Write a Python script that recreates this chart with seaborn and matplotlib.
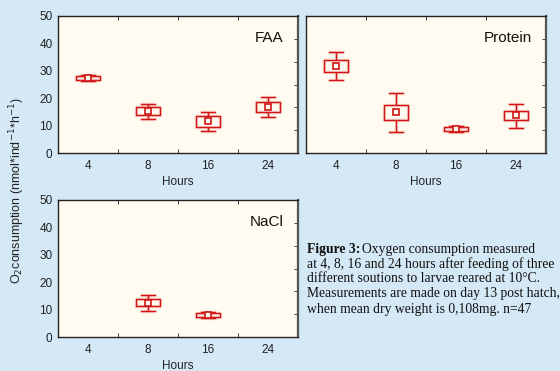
import numpy as np
import pandas as pd
import matplotlib
matplotlib.use("Agg")
import matplotlib.pyplot as plt
import matplotlib.patheffects as pe
import seaborn as sns

# values: mean, box (lo/hi), whisker (lo/hi)
hours = ["4", "8", "16", "24"]

faa_mean = [27.3, 15.3, 11.6, 16.8]
faa_box_lo = [26.5, 13.8, 9.6, 14.9]
faa_box_hi = [28.0, 16.7, 13.5, 18.7]
faa_whis_lo = [26.1, 12.4, 8.0, 13.2]
faa_whis_hi = [28.3, 18.0, 14.9, 20.3]

protein_mean = [31.8, 14.9, 8.8, 13.8]
protein_box_lo = [29.5, 12.0, 8.0, 11.9]
protein_box_hi = [33.8, 17.6, 9.6, 15.4]
protein_whis_lo = [26.8, 7.8, 7.6, 9.2]
protein_whis_hi = [36.7, 22.0, 10.0, 18.0]

nacl_hours = ["8", "16"]
nacl_mean = [12.5, 8.0]
nacl_box_lo = [11.2, 7.3]
nacl_box_hi = [13.8, 8.9]
nacl_whis_lo = [9.6, 7.1]
nacl_whis_hi = [15.3, 9.1]

caption = [
    "at 4, 8, 16 and 24 hours after feeding of three",
    "different soutions to larvae reared at 10°C.",
    "Measurements are made on day 13 post hatch,",
    "when mean dry weight is 0,108mg. n=47",
]

FIG_BG = "#d4e8f6"
AX_BG = "#fffbf0"
RED = "#d01515"
INK = "#222222"


def long_table(hrs, wlo, blo, mean, bhi, whi):
    # five numbers per group -> quartiles land on the box edges, min/max on whiskers
    rows = []
    for i, h in enumerate(hrs):
        for v in [wlo[i], blo[i], mean[i], bhi[i], whi[i]]:
            rows.append({"Hours": h, "value": v})
    return pd.DataFrame(rows)


sns.set_style("white")
plt.rcParams["font.family"] = ["Liberation Sans", "DejaVu Sans"]

fig = plt.figure(figsize=(5.6, 3.71), dpi=100, facecolor=FIG_BG)

panels = [
    ("FAA", [58, 16], hours, faa_whis_lo, faa_box_lo, faa_mean, faa_box_hi, faa_whis_hi, True),
    ("Protein", [306, 16], hours, protein_whis_lo, protein_box_lo, protein_mean, protein_box_hi, protein_whis_hi, False),
    ("NaCl", [58, 200], nacl_hours, nacl_whis_lo, nacl_box_lo, nacl_mean, nacl_box_hi, nacl_whis_hi, True),
]

glow = [pe.Stroke(linewidth=2.4, foreground=(0.9, 0.35, 0.35, 0.25)), pe.Normal()]

for name, (px, py), hrs, wlo, blo, mean, bhi, whi, ylabels in panels:
    ax = fig.add_axes([px / 560, 1 - (py + 137) / 371, 240 / 560, 137 / 371])
    ax.set_facecolor(AX_BG)

    df = long_table(hrs, wlo, blo, mean, bhi, whi)
    sns.boxplot(
        data=df, x="Hours", y="value", order=hours, ax=ax,
        fill=False, color=RED, linecolor=RED, linewidth=1.0,
        width=0.4, whis=np.inf, showfliers=False,
        medianprops={"visible": False},
    )
    for ln in ax.lines:
        ln.set_path_effects(glow)
    for p in ax.patches:
        p.set_path_effects(glow)

    means = pd.DataFrame({"Hours": hrs, "mean": mean})
    sns.pointplot(
        data=means, x="Hours", y="mean", order=hours, ax=ax,
        markers="s", linestyles="none", color=RED, errorbar=None,
        markersize=4.5, markeredgewidth=1.2, markerfacecolor=AX_BG,
    )

    # shrink the caps a bit
    for ln in ax.lines:
        xd = np.asarray(ln.get_xdata(), dtype=float)
        yd = np.asarray(ln.get_ydata(), dtype=float)
        if len(xd) == 2 and yd[0] == yd[1] and xd[0] != xd[1]:
            c = xd.mean()
            ln.set_xdata([c - 0.12, c + 0.12])

    ax.set_xlim(-0.5, 3.5)
    ax.set_ylim(0, 50)
    ax.set_yticks([0, 10, 20, 30, 40, 50])
    ax.set_xticks(range(4))
    ax.set_xticklabels(hours)
    ax.set_xticks([0.5, 1.5, 2.5], minor=True)
    ax.tick_params(axis="x", which="major", length=0, labelsize=8.5, pad=5, colors=INK)
    ax.tick_params(axis="x", which="minor", direction="in", length=3, top=True, bottom=True, color=INK)
    ax.tick_params(axis="y", which="major", direction="inout", length=4, labelsize=8.5,
                   labelleft=ylabels, colors=INK, pad=2)
    if not ylabels:
        ax.tick_params(axis="y", which="major", direction="in", length=3)
    ax.set_yticks(np.arange(1, 6) * 50 / 6, minor=True)
    ax.tick_params(axis="y", which="minor", direction="in", length=3, left=False, right=True, color=INK)

    ax.set_xlabel("Hours", fontsize=8.5, labelpad=3, color=INK)
    ax.set_ylabel("")
    for s in ax.spines.values():
        s.set_color(INK)
        s.set_linewidth(1.0)
        s.set_visible(True)
    ax.spines["right"].set_color("#555555")
    ax.spines["right"].set_linewidth(1.6)

    ax.text(0.94, 0.84, name, transform=ax.transAxes, ha="right", va="center",
            fontsize=11, color="#111111")

fig.text(17 / 560, 1 - 191 / 371,
         "O$_2$consumption (nmol*ind$^{-1}$*h$^{-1}$)",
         rotation=90, ha="center", va="center", fontsize=9, color=INK)

# caption
serif = ["Liberation Serif", "DejaVu Serif"]
cap_size = 9.8
t = fig.text(307 / 560, 1 - 249 / 371, "Figure 3:", fontweight="bold",
             fontsize=cap_size, family=serif, va="center", color="#111111")
fig.canvas.draw()
bb = t.get_window_extent(renderer=fig.canvas.get_renderer())
fig.text((bb.x1 + 2) / 560, 1 - 249 / 371, "Oxygen consumption measured",
         fontsize=cap_size, family=serif, va="center", color="#111111")
for i, line in enumerate(caption):
    fig.text(307 / 560, 1 - (264 + 15 * i) / 371, line,
             fontsize=cap_size, family=serif, va="center", color="#111111")

fig.savefig("out.png", dpi=100, facecolor=FIG_BG)
